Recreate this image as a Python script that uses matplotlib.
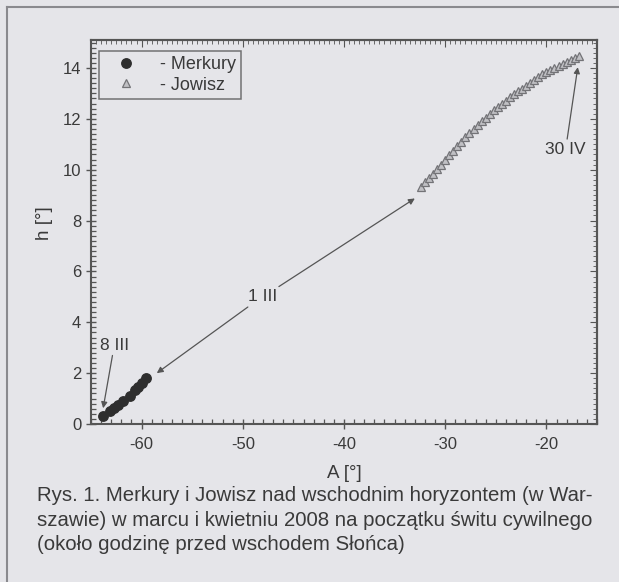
"""Merkury i Jowisz nad wschodnim horyzontem - odtworzenie wykresu (A vs h)."""
import matplotlib
matplotlib.use("Agg")
import matplotlib.pyplot as plt
from matplotlib.lines import Line2D
from matplotlib.ticker import MultipleLocator

# Merkury: 8 III ... (A [deg], h [deg])
merkury_A = [-63.8, -63.1, -62.7, -62.3, -61.8, -61.1, -60.7, -60.4, -60.0, -59.6]
merkury_h = [0.30, 0.50, 0.62, 0.74, 0.90, 1.10, 1.35, 1.47, 1.63, 1.80]

# Jowisz: 1 III ... 30 IV
jowisz_A = [-32.4, -32.0, -31.6, -31.2, -30.8, -30.4, -30.0, -29.6, -29.2, -28.8,
            -28.4, -28.0, -27.6, -27.2, -26.8, -26.4, -26.0, -25.6, -25.2, -24.8,
            -24.4, -24.0, -23.6, -23.2, -22.8, -22.4, -22.0, -21.6, -21.2, -20.8,
            -20.4, -20.0, -19.6, -19.2, -18.8, -18.4, -18.0, -17.6, -17.2, -16.8]
jowisz_h = [9.32, 9.50, 9.68, 9.85, 10.02, 10.20, 10.38, 10.56, 10.74, 10.92,
            11.10, 11.28, 11.45, 11.60, 11.76, 11.90, 12.05, 12.19, 12.33, 12.47,
            12.60, 12.72, 12.84, 12.96, 13.08, 13.19, 13.30, 13.42, 13.53, 13.64,
            13.75, 13.84, 13.92, 14.00, 14.08, 14.16, 14.24, 14.32, 14.40, 14.48]

x_ticks = [-60, -50, -40, -30, -20]
y_ticks = [0, 2, 4, 6, 8, 10, 12, 14]

CAPTION = ("Rys. 1. Merkury i Jowisz nad wschodnim horyzontem (w War-\n"
           "szawie) w marcu i kwietniu 2008 na początku świtu cywilnego\n"
           "(około godzinę przed wschodem Słońca)")

BG = "#e5e5e9"
INK = "#3a3a3a"
plt.rcParams["font.family"] = ["Liberation Sans", "DejaVu Sans"]
plt.rcParams["axes.unicode_minus"] = False

W, H = 619, 582
fig = plt.figure(figsize=(W / 100, H / 100), dpi=100, facecolor=BG)

# page frame (scan border)
fig.add_artist(Line2D([7 / W, 7 / W], [0, 1 - 7 / H], color="#8a8a8e", lw=1.5))
fig.add_artist(Line2D([7 / W, 1], [1 - 7 / H, 1 - 7 / H], color="#8a8a8e", lw=1.5))

ax = fig.add_axes([91 / W, 1 - 424 / H, (597 - 91) / W, (424 - 40) / H])
ax.set_facecolor(BG)

ax.plot(merkury_A, merkury_h, "o", ms=6.8, color="#2e2e2e", mec="#2e2e2e", zorder=3,
        label="  - Merkury")
ax.plot(jowisz_A, jowisz_h, "^", ms=6.4, mfc="#c0c0c4", mec="#737377", mew=0.9, zorder=3,
        label="  - Jowisz")

ax.set_xlim(-65, -15)
ax.set_ylim(0, 15.1)
ax.set_xticks(x_ticks)
ax.set_yticks(y_ticks)
ax.xaxis.set_minor_locator(MultipleLocator(1))
ax.yaxis.set_minor_locator(MultipleLocator(0.2))
ax.tick_params(which="major", direction="inout", length=7, width=1.0, color="#555",
               labelsize=12, labelcolor=INK, top=False, right=False)
ax.tick_params(which="minor", direction="in", length=3.5, width=0.9, color="#555",
               top=False, right=False)
ax.tick_params(axis="x", pad=6)

top = ax.secondary_xaxis("top")
top.set_xticks(x_ticks)
top.xaxis.set_minor_locator(MultipleLocator(0.5))
top.tick_params(which="major", direction="in", length=5, color="#555", labeltop=False)
top.tick_params(which="minor", direction="in", length=3, color="#555")
right = ax.secondary_yaxis("right")
right.set_yticks(y_ticks)
right.yaxis.set_minor_locator(MultipleLocator(0.2))
right.tick_params(which="major", direction="in", length=5, color="#555", labelright=False)
right.tick_params(which="minor", direction="in", length=3, color="#555")

for s in list(ax.spines.values()) + [top.spines["top"], right.spines["right"]]:
    s.set_color("#555")
    s.set_linewidth(1.5)

ax.set_xlabel("A [°]", fontsize=13.5, color=INK, labelpad=9)
ax.set_ylabel("h [°]", fontsize=13.5, color=INK)
ax.yaxis.set_label_coords(-0.075, 0.523)

leg = ax.legend(loc="upper left", bbox_to_anchor=(0.016, 0.972), fontsize=13,
                frameon=True, fancybox=False, handletextpad=0.1, borderpad=0.3,
                labelspacing=0.2, handlelength=2.4, borderaxespad=0)
leg.get_frame().set_edgecolor("#555")
leg.get_frame().set_facecolor(BG)
leg.get_frame().set_linewidth(1.1)
for t in leg.get_texts():
    t.set_color(INK)

arrow = dict(arrowstyle="-|>", color="#555", lw=0.9, shrinkA=0, shrinkB=0,
             mutation_scale=9)
ax.annotate("8 III", xy=(-63.8, 0.62), xytext=(-62.7, 3.1), fontsize=12.5, color=INK,
            ha="center", va="center", arrowprops=arrow)
ax.annotate("1 III", xy=(-33.0, 8.87), xytext=(-48.0, 5.0), fontsize=12.5, color=INK,
            ha="center", va="center", arrowprops=arrow)
ax.annotate("", xy=(-58.5, 2.0), xytext=(-49.5, 4.6), arrowprops=arrow)
ax.annotate("30 IV", xy=(-16.9, 14.03), xytext=(-18.1, 10.8), fontsize=12.5, color=INK,
            ha="center", va="center", arrowprops=arrow)

fig.text(37 / W, 1 - 486 / H, CAPTION, fontsize=14.7, color=INK, ha="left", va="top",
         linespacing=1.38)

fig.savefig("out.png", dpi=100, facecolor=BG)
